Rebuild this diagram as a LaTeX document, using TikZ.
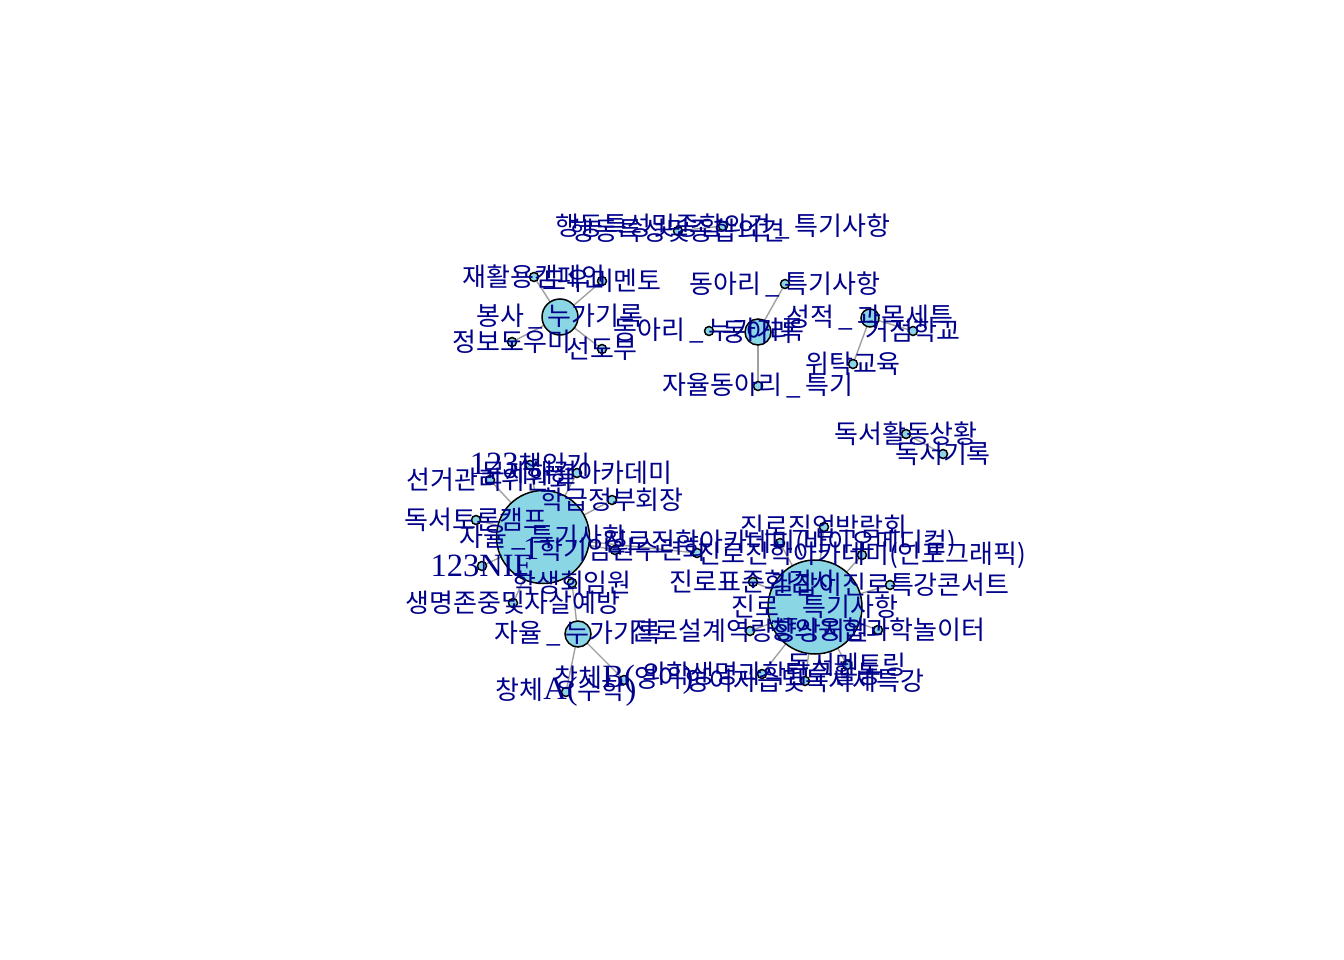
\documentclass[tikz,border=0pt]{standalone}
\usepackage{fontspec}
\setmainfont{Liberation Serif}
\newfontfamily\kfont{Noto Sans CJK KR}
\newcommand\us{\makebox[0.9em]{\_}}
\newcommand\lt[1]{{\rmfamily\fontsize{32.5}{32}\selectfont #1}}
\usetikzlibrary{backgrounds}
\definecolor{lblc}{RGB}{0,0,139}
\definecolor{nodec}{RGB}{139,214,228}
\definecolor{edgec}{RGB}{160,160,160}
\begin{document}
\begin{tikzpicture}[x=1pt,y=-1pt,
  v/.style={circle,draw=black,line width=1.5pt,fill=nodec,inner sep=0pt,minimum size=#1},
  v/.default=9pt,
  lbl/.style={text=lblc,font=\kfont\fontsize{26}{26}\selectfont,inner sep=0pt,anchor=center},
  e/.style={draw=edgec,line width=1.4pt}]
\useasboundingbox (0,0) rectangle (1344,960);
% vertices
\node[v=36pt] (bh) at (560,317) {};
\node[v] (b1) at (534,277) {};
\node[v] (b2) at (602,281) {};
\node[v] (b3) at (512,342) {};
\node[v] (b4) at (602,349) {};
\node[v] (h1) at (723,226) {};
\node[v] (h2) at (678,231) {};
\node[v=26pt] (dh) at (758,332) {};
\node[v] (d1) at (709,331) {};
\node[v] (d2) at (785,284) {};
\node[v] (d3) at (758,386) {};
\node[v=18pt] (sh) at (870,318) {};
\node[v] (s1) at (913,331) {};
\node[v] (s2) at (853,364) {};
\node[v] (r1) at (906,434) {};
\node[v] (r2) at (943,454) {};
\node[v=93pt] (ah) at (543,537) {};
\node[v] (a1) at (530,465) {};
\node[v] (a2) at (490,480) {};
\node[v] (a3) at (577,473) {};
\node[v] (a4) at (612,500) {};
\node[v] (a5) at (476,520) {};
\node[v] (a6) at (482,566) {};
\node[v] (a7) at (615,550) {};
\node[v] (a8) at (572,583) {};
\node[v] (a9) at (513,603) {};
\node[v] (a10) at (697,553) {};
\node[v=26pt] (nh) at (578,634) {};
\node[v] (n1) at (566,692) {};
\node[v] (n2) at (624,680) {};
\node[v=94pt] (ch) at (815,607) {};
\node[v] (c1) at (824,527) {};
\node[v] (c2) at (780,543) {};
\node[v] (c3) at (862,555) {};
\node[v] (c4) at (753,582) {};
\node[v] (c5) at (890,585) {};
\node[v] (c6) at (750,631) {};
\node[v] (c7) at (878,630) {};
\node[v] (c8) at (847,665) {};
\node[v] (c9) at (762,674) {};
\node[v] (c10) at (805,681) {};
% edges
\begin{scope}[on background layer]
\foreach \t in {b1,b2,b3,b4} \draw[e] (bh.center) -- (\t.center);
\draw[e] (h1.center) -- (h2.center);
\foreach \t in {d1,d2,d3} \draw[e] (dh.center) -- (\t.center);
\foreach \t in {s1,s2} \draw[e] (sh.center) -- (\t.center);
\draw[e] (r1.center) -- (r2.center);
\foreach \t in {a1,a2,a3,a4,a5,a6,a7,a8,a9,a10} \draw[e] (ah.center) -- (\t.center);
\draw[e] (a8.center) -- (nh.center);
\foreach \t in {n1,n2} \draw[e] (nh.center) -- (\t.center);
\foreach \t in {c1,c2,c3,c4,c5,c6,c7,c8,c9,c10} \draw[e] (ch.center) -- (\t.center);
\end{scope}
% labels
\node[lbl] (lbh) at (bh) {봉사\us 누가기록};
\node[lbl] (lb1) at (b1) {재활용캠페인};
\node[lbl] (lb2) at (b2) {도우미멘토};
\node[lbl] (lb3) at (b3) {정보도우미};
\node[lbl] (lb4) at (b4) {선도부};
\node[lbl] (lh1) at (h1) {행동특성및종합의견\us 특기사항};
\node[lbl] (lh2) at (h2) {행동특성및종합의견};
\node[lbl] (ldh) at (dh) {동아리};
\node[lbl] (ld1) at (d1) {동아리\us 누가기록};
\node[lbl] (ld2) at (d2) {동아리\us 특기사항};
\node[lbl] (ld3) at (d3) {자율동아리\us 특기};
\node[lbl] (lsh) at (sh) {성적\us 과목세특};
\node[lbl] (ls1) at (s1) {거점학교};
\node[lbl] (ls2) at (s2) {위탁교육};
\node[lbl] (lr1) at (r1) {독서활동상황};
\node[lbl] (lr2) at (r2) {독서기록};
\node[lbl] (lah) at (ah) {자율\us 특기사항};
\node[lbl] (la1) at (a1) {\lt{123}책읽기};
\node[lbl] (la2) at (a2) {선거관리위원회};
\node[lbl] (la3) at (a3) {문제해결아카데미};
\node[lbl] (la4) at (a4) {학급정부회장};
\node[lbl] (la5) at (a5) {독서토론캠프};
\node[lbl] (la6) at (a6) {\lt{123NIE}};
\node[lbl] (la7) at (a7) {\lt{1}학기임원수련회};
\node[lbl] (la8) at (a8) {학생회임원};
\node[lbl] (la9) at (a9) {생명존중및자살예방};
\node[lbl] (lnh) at (nh) {자율\us 누가기록};
\node[lbl] (ln1) at (n1) {창체\lt{A(}수학\lt{)}};
\node[lbl] (ln2) at (n2) {창체\lt{B(}영어\lt{)}};
\node[lbl] (lch) at (ch) {진로\us 특기사항};
\node[lbl] (lc1) at (c1) {진로직업박람회};
\node[lbl] (lc2) at (c2) {진로진학아카데미(바이오메디컬)};
\node[lbl] (lc3) at (c3) {진로진학아카데미(인포그래픽)};
\node[lbl] (lc4) at (c4) {진로표준화검사};
\node[lbl] (lc5) at (c5) {길잡이진로특강콘서트};
\node[lbl] (lc6) at (c6) {진로설계역량향상지원};
\node[lbl] (lc7) at (c7) {창의융합과학놀이터};
\node[lbl] (lc8) at (c8) {독서멘토링};
\node[lbl] (lc9) at (c9) {의학생명과학탐구활동};
\node[lbl] (lc10) at (c10) {영어자습및독서세특강};
\end{tikzpicture}
\end{document}
